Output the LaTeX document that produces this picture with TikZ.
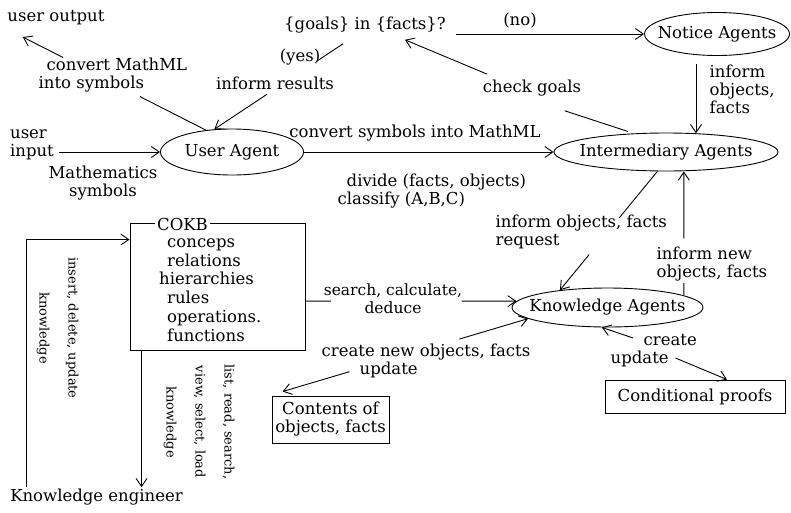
\documentclass[tikz,border=0pt]{standalone}
\usepackage{fontspec}
\setmainfont{DejaVu Serif}
\usetikzlibrary{arrows.meta,shapes.geometric,calc}
\newcommand\diagfont{\fontsize{16.5}{18}\selectfont}
\newcommand\smallerfont{\fontsize{15.5}{18}\selectfont}
\newcommand\rotfont{\fontsize{13}{29}\selectfont}
\newcommand\listfont{\fontsize{16.5}{18.8}\selectfont}

\begin{document}
\begin{tikzpicture}[x=1pt,y=-1pt,
  every node/.style={font=\diagfont, inner sep=1.5pt, text=black},
  agent/.style={draw, ellipse, inner sep=0pt, line width=0.9pt},
  box/.style={draw, rectangle, line width=0.9pt},
  conn/.style={line width=0.9pt},
  tip/.tip={Straight Barb[length=8pt,width=11pt]},
  arr/.style={conn, -tip},
  darr/.style={conn, tip-},
]
\useasboundingbox (0,0) rectangle (791,512);

% agents
\node[agent, minimum width=143pt, minimum height=46pt] (ua) at (232,152) {\makebox[0pt]{User Agent}};
\node[agent, minimum width=224pt, minimum height=38pt] (ia) at (666,152) {\makebox[0pt]{Intermediary Agents}};
\node[agent, minimum width=145pt, minimum height=43pt] (notice) at (717,34) {\makebox[0pt]{Notice Agents}};
\node[agent, minimum width=191pt, minimum height=39pt] (ka) at (607.5,307.5) {\makebox[0pt]{Knowledge Agents}};

% boxes
\node[box, minimum width=175pt, minimum height=127pt] (cokb) at (217.5,286.5) {};
\node[fill=white, inner sep=2pt] (cokbtitle) at (182.5,224) {COKB};
\node[align=left, anchor=west, inner sep=0pt, font=\listfont] (cokbitems) at (159,290)
  {\hspace*{8pt}conceps\\\hspace*{8pt}relations\\hierarchies\\\hspace*{8pt}rules\\\hspace*{8pt}operations.\\\hspace*{8pt}functions};
\node[box, minimum width=117pt, minimum height=47pt, align=center] (contents) at (330.5,419.5) {Contents of\\objects, facts};
\node[box, minimum width=180pt, minimum height=33pt] (cproofs) at (695,396.5) {Conditional proofs};

% end points and questions
\node (uout) at (56,18) {user output};
\node (goals) at (365,25) {\{goals\} in \{facts\}?};
\node[align=left] (uin) at (32,145) {user\\input};
\node (ke) at (96.5,497) {Knowledge engineer};

% labels
\node (lno) at (520,21) {(no)};
\node (lyes) at (300,57) {(yes)};
\node[align=left, anchor=west] (lconv) at (37,75) {\hspace*{8pt}convert MathML\\into symbols};
\node (lres) at (275,83) {inform results};
\node (lcheck) at (532,88) {check goals};
\node[align=left, anchor=west] (linfo) at (708,89) {inform\\objects,\\facts};
\node (math) at (103,183.5) [align=center] {Mathematics\\symbols};
\node (lsym) at (415,133) {convert symbols into MathML};
\node[align=left, anchor=west] (ldiv) at (336,191) {\hspace*{9pt}divide (facts, objects)\\classify (A,B,C)};
\node[align=left, anchor=west] (lreq) at (494,232) {inform objects, facts\\request};
\node[align=left, anchor=west] (lnew) at (655,264) {inform new\\objects, facts};
\node[align=center, font=\smallerfont] (lsearch) at (393,299) {search, calculate,\\deduce};
\node[align=left, anchor=west] (lcreate) at (320,361) {create new objects, facts\\\hspace*{38pt}update};
\node[align=left, anchor=west] (lcu) at (609,351) {\hspace*{33pt}create\\update};
\node[rotate=-90, align=center, font=\rotfont] (lins) at (57.5,328) {insert, delete, update\\knowledge};
\node[rotate=-90, align=center, font=\rotfont] (llist) at (199,422) {list, read, search,\\view, select, load\\knowledge};

% user input and the user agent
\draw[arr] ($(uin.east |- ua.west)+(3,0)$) -- (ua.west);
\draw[arr] (ua.east) -- (ua.east -| ia.west);
\coordinate (outend) at ($(uout.south west)+(17,10)$);
\draw[conn] (ua.140) -- ($(ua.140)!0.36!(outend)$);
\draw[arr] ($(ua.140)!0.78!(outend)$) -- (outend);

% goal check
\coordinate (yesstart) at ($(goals.south)+(-22,9)$);
\draw[conn] (yesstart) -- ($(yesstart)!0.2!(ua.128)$);
\draw[arr] ($(yesstart)!0.59!(ua.128)$) -- (ua.128);
\draw[arr] ($(goals.east |- notice.west)+(8,0)$) -- (notice.west);
\draw[arr] ($(ia.32 |- notice.south)+(0,8)$) -- (ia.32);
\draw[conn, shorten <=6pt] (ia.150) -- ($(lcheck.south east)+(-18,13)$);
\draw[arr] ($(lcheck.north west)+(6,-4)$) -- ($(goals.south)+(40,5)$);

% intermediary and knowledge agents
\draw[conn] (ia.246) -- ($(ia.246)!0.39!(ka.160)$);
\draw[arr] ($(ia.246)!0.70!(ka.160)$) -- (ka.160);
\draw[conn] (ka.9) -- ($(ka.9)!0.10!(ka.9 |- ia.south)$);
\draw[arr] ($(ka.9)!0.46!(ka.9 |- ia.south)$) -- (ka.9 |- ia.south);

% knowledge base access
\draw[conn] (cokb.east |- ka.176) -- ($(cokb.east |- ka.176)!0.12!(ka.176)$);
\draw[arr] ($(cokb.east |- ka.176)!0.74!(ka.176)$) -- (ka.176);
\coordinate (cntend) at ($(contents.north west)+(11,-4)$);
\draw[darr] (ka.188) -- ($(ka.188)!0.28!(cntend)$);
\draw[arr] ($(ka.188)!0.727!(cntend)$) -- (cntend);
\draw[darr] (ka.254) -- ($(lcu.north west)+(24,5)$);
\draw[arr] ($(lcu.south east)+(-23,-11)$) -- ($(cproofs.north)+(32,0)$);

% knowledge engineer
\coordinate (cdown) at ($(cokb.south west)+(12,0)$);
\draw[arr] (cdown) -- (cdown |- ke.north);
\coordinate (cup) at ($(cokb.north west)+(0,17)$);
\draw[arr] ($(ke.north west)+(18,0)$) |- (cup);
\end{tikzpicture}
\end{document}
